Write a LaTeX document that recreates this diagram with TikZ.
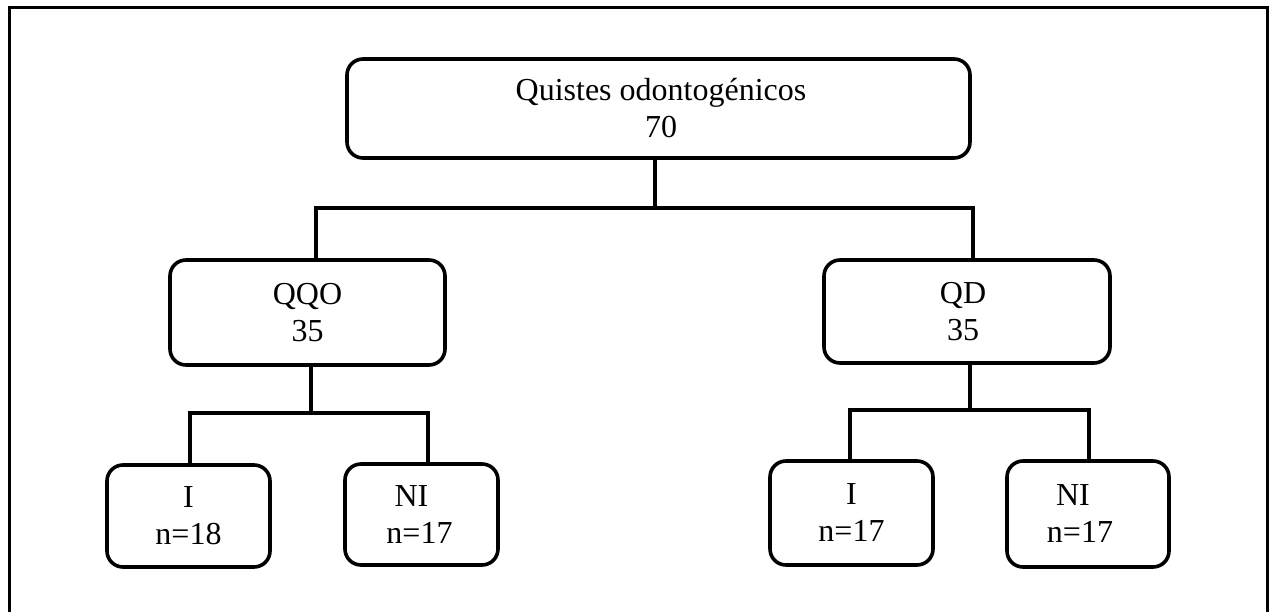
\documentclass[tikz,border=0pt]{standalone}
\usepackage{fontspec}
\setmainfont{Liberation Serif}
\begin{document}
\begin{tikzpicture}[x=1pt,y=-1pt,
  box/.style={draw=black,line width=3.6pt,rounded corners=16pt,align=center,
    inner sep=0pt,font=\fontsize{32}{37}\selectfont},
  link/.style={draw=black,line width=3.2pt},
  frame/.style={draw=black,line width=3pt}]
\useasboundingbox (0,0) rectangle (1271,612);
\draw[frame] (9,616) -- (9,8) -- (1267,8) -- (1267,616);

\node[box,minimum width=623pt,minimum height=99pt] (top) at (658.5,108.5) {\hspace*{5pt}Quistes odontogénicos\\\hspace*{5pt}70};
\node[box,minimum width=275pt,minimum height=105pt] (qqo) at (307.5,312.5) {QQO\\35};
\node[box,minimum width=286pt,minimum height=103pt] (qd) at (967,311.5) {QD\hspace*{8pt}\\35\hspace*{8pt}};
\node[box,minimum width=163pt,minimum height=102pt] (i1) at (188.5,516) {I\\n=18};
\node[box,minimum width=153pt,minimum height=101pt] (ni1) at (421.5,514.5) {NI\hspace*{20pt}\\n=17\hspace*{4pt}};
\node[box,minimum width=163pt,minimum height=104pt] (i2) at (851.5,513) {I\\n=17};
\node[box,minimum width=162pt,minimum height=106pt] (ni2) at (1088,514) {NI\hspace*{30pt}\\n=17\hspace*{16pt}};

\coordinate (j0) at (655,208);
\coordinate (j1) at (311,413);
\coordinate (j2) at (970,410);

\draw[link] (top.south -| j0) -- (j0);
\draw[link] (qqo.north -| 316,0) -- (316,208) -- (973,208) -- (qd.north -| 973,0);
\draw[link] (qqo.south -| j1) -- (j1);
\draw[link] (i1.north -| 190,0) -- (190,413) -- (428,413) -- (ni1.north -| 428,0);
\draw[link] (qd.south -| j2) -- (j2);
\draw[link] (i2.north -| 850,0) -- (850,410) -- (1089,410) -- (ni2.north -| 1089,0);
\end{tikzpicture}
\end{document}
